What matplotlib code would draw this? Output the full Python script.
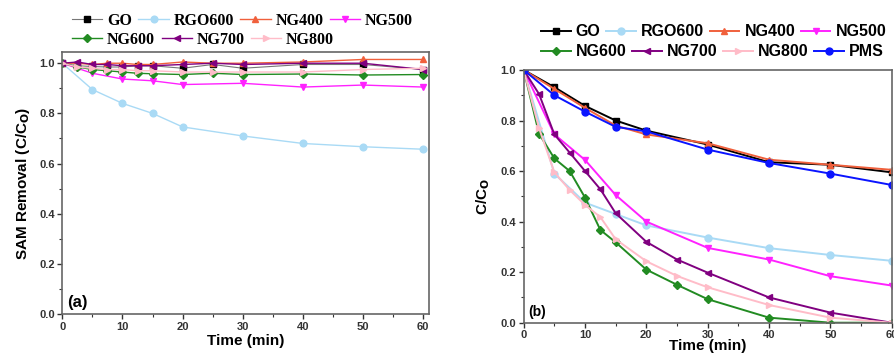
import matplotlib
matplotlib.use("Agg")
import matplotlib.pyplot as plt
from matplotlib.ticker import MultipleLocator, FormatStrFormatter

# ---- panel (a) data: SAM removal by adsorption ----
t_a = [0, 2.5, 5, 7.5, 10, 12.5, 15, 20, 25, 30, 40, 50, 60]
go_a = [1.0, 0.99, 0.987, 0.985, 0.985, 0.99, 0.99, 0.98, 0.995, 0.98, 0.995, 0.995, 0.975]
ng400_a = [1.0, 1.0, 0.995, 1.0, 1.0, 0.995, 0.995, 1.005, 1.0, 1.0, 1.005, 1.015, 1.015]
ng600_a = [1.0, 0.985, 0.975, 0.97, 0.965, 0.96, 0.958, 0.955, 0.96, 0.955, 0.957, 0.953, 0.955]
ng700_a = [1.0, 1.005, 0.995, 0.995, 0.99, 0.99, 0.99, 0.995, 1.0, 0.995, 1.0, 1.0, 0.975]
ng800_a = [1.0, 0.985, 0.98, 0.975, 0.975, 0.97, 0.97, 0.965, 0.965, 0.965, 0.965, 0.975, 0.98]
t_a_ng500 = [0, 2.5, 5, 10, 15, 20, 30, 40, 50, 60]
ng500_a = [1.0, 0.98, 0.96, 0.937, 0.93, 0.915, 0.92, 0.905, 0.913, 0.905]
t_a_rgo = [0, 5, 10, 15, 20, 30, 40, 50, 60]
rgo600_a = [1.0, 0.895, 0.84, 0.80, 0.746, 0.71, 0.68, 0.667, 0.657]

# ---- panel (b) data: SAM degradation with PMS ----
t_b = [0, 5, 10, 15, 20, 30, 40, 50, 60]
go_b = [1.0, 0.932, 0.858, 0.80, 0.76, 0.705, 0.635, 0.625, 0.595]
ng400_b = [1.0, 0.925, 0.85, 0.78, 0.745, 0.71, 0.645, 0.625, 0.605]
pms_b = [1.0, 0.90, 0.835, 0.775, 0.757, 0.685, 0.632, 0.59, 0.545]
ng500_b = [1.0, 0.745, 0.644, 0.505, 0.40, 0.296, 0.25, 0.184, 0.147]
rgo600_b = [1.0, 0.59, 0.475, 0.43, 0.385, 0.337, 0.295, 0.268, 0.245]
t_b2 = [0, 2.5, 5, 7.5, 10, 12.5, 15, 20, 25, 30, 40, 50, 60]
ng600_b = [1.0, 0.748, 0.65, 0.60, 0.495, 0.367, 0.318, 0.21, 0.15, 0.093, 0.02, 0.0, 0.0]
ng700_b = [1.0, 0.905, 0.745, 0.673, 0.60, 0.528, 0.433, 0.32, 0.25, 0.198, 0.10, 0.04, 0.0]
ng800_b = [1.0, 0.77, 0.595, 0.525, 0.466, 0.418, 0.33, 0.243, 0.185, 0.14, 0.07, 0.02, 0.0]

C_GO = "black"
C_RGO = "#a9daf5"
C_NG400 = "#f0603c"
C_NG500 = "#ff22ff"
C_NG600 = "#228b22"
C_NG700 = "#800080"
C_NG800 = "#ffbcc8"
C_PMS = "#0a14ff"

plt.rcParams["font.family"] = ["Liberation Sans", "DejaVu Sans"]
plt.rcParams["font.weight"] = "bold"

W, H = 895, 356
fig = plt.figure(figsize=(W / 100, H / 100), dpi=100)


def style_axes(ax, spine_col="#666666"):
    for s in ax.spines.values():
        s.set_color(spine_col)
        s.set_linewidth(1.2)
    ax.tick_params(which="both", direction="out", colors="#333333",
                   labelsize=8, top=False, right=False, pad=2)
    ax.tick_params(which="major", length=3.5, width=1)
    ax.tick_params(which="minor", length=2, width=0.8)
    ax.xaxis.set_major_locator(MultipleLocator(10))
    ax.xaxis.set_minor_locator(MultipleLocator(5))
    ax.yaxis.set_major_locator(MultipleLocator(0.2))
    ax.yaxis.set_minor_locator(MultipleLocator(0.1))
    ax.yaxis.set_major_formatter(FormatStrFormatter("%.1f"))


def row_legend(handles, labels, x, y, font, size, hl, tp, cs):
    leg = fig.legend(handles, labels, loc="center left",
                     bbox_to_anchor=(x / W, 1 - y / H), ncol=len(handles),
                     frameon=False, borderpad=0, borderaxespad=0,
                     handlelength=hl, handletextpad=tp, columnspacing=cs,
                     prop={"family": font, "weight": "bold", "size": size})
    return leg


# ---------------- panel (a) ----------------
ax1 = fig.add_axes([62.3 / W, 1 - 314 / H, 367 / W, (314 - 51.7) / H])
ms = 4.8
lw = 1.0
la = []
la.append(ax1.plot(t_a, go_a, color="#777777", lw=0.8, marker="s", ms=ms,
                   mfc="black", mec="black")[0])
la.append(ax1.plot(t_a_rgo, rgo600_a, color=C_RGO, lw=lw, marker="o", ms=ms)[0])
la.append(ax1.plot(t_a, ng400_a, color=C_NG400, lw=lw, marker="^", ms=ms)[0])
la.append(ax1.plot(t_a_ng500, ng500_a, color=C_NG500, lw=lw, marker="v", ms=ms)[0])
la.append(ax1.plot(t_a, ng600_a, color=C_NG600, lw=lw, marker="D", ms=ms - 0.8)[0])
la.append(ax1.plot(t_a, ng700_a, color=C_NG700, lw=lw, marker="<", ms=ms)[0])
la.append(ax1.plot(t_a, ng800_a, color=C_NG800, lw=lw, marker=">", ms=ms)[0])
ax1.set_xlim(0, 61)
ax1.set_ylim(0, 1.046)
style_axes(ax1)
ax1.set_xlabel("Time (min)", fontsize=11, fontweight="bold", labelpad=2)
ax1.set_ylabel("SAM Removal (C/C$_\\mathbf{O}$)", fontsize=11, fontweight="bold",
               labelpad=5)
ax1.text(0.012, 0.015, "(a)", transform=ax1.transAxes, fontsize=12,
         fontweight="bold", ha="left", va="bottom")

names_a = ["GO", "RGO600", "NG400", "NG500", "NG600", "NG700", "NG800"]
leg1 = row_legend(la[:4], names_a[:4], 72, 21, "Liberation Serif", 11.5, 1.9, 0.3, 0.4)
leg2 = row_legend(la[4:], names_a[4:], 72, 40, "Liberation Serif", 11.5, 1.9, 0.3, 0.4)

# ---------------- panel (b) ----------------
ax2 = fig.add_axes([523.7 / W, 1 - 322.7 / H, 368 / W, (322.7 - 70) / H])
ms2 = 5
lw2 = 1.4
lb = []
lb.append(ax2.plot(t_b, go_b, color=C_GO, lw=lw2, marker="s", ms=ms2)[0])
lb.append(ax2.plot(t_b, rgo600_b, color=C_RGO, lw=lw2, marker="o", ms=ms2)[0])
lb.append(ax2.plot(t_b, ng400_b, color=C_NG400, lw=lw2, marker="^", ms=ms2)[0])
lb.append(ax2.plot(t_b, ng500_b, color=C_NG500, lw=lw2, marker="v", ms=ms2)[0])
lb.append(ax2.plot(t_b2, ng600_b, color=C_NG600, lw=lw2, marker="D", ms=ms2 - 0.8)[0])
lb.append(ax2.plot(t_b2, ng700_b, color=C_NG700, lw=lw2, marker="<", ms=ms2)[0])
lb.append(ax2.plot(t_b2, ng800_b, color=C_NG800, lw=lw2, marker=">", ms=ms2)[0])
lb.append(ax2.plot(t_b, pms_b, color=C_PMS, lw=lw2, marker="o", ms=ms2)[0])
ax2.set_xlim(0, 60)
ax2.set_ylim(0, 1.0)
style_axes(ax2)
ax2.set_xlabel("Time (min)", fontsize=11, fontweight="bold", labelpad=-1)
ax2.set_ylabel("C/C$_\\mathbf{O}$", fontsize=11, fontweight="bold", labelpad=6)
ax2.text(0.012, 0.015, "(b)", transform=ax2.transAxes, fontsize=10,
         fontweight="bold", ha="left", va="bottom")

names_b = ["GO", "RGO600", "NG400", "NG500", "NG600", "NG700", "NG800", "PMS"]
leg3 = row_legend(lb[:4], names_b[:4], 541, 32, "Liberation Sans", 11.5, 1.85, 0.33, 0.35)
leg4 = row_legend(lb[4:], names_b[4:], 541, 52, "Liberation Sans", 11.5, 1.85, 0.33, 0.35)

fig.savefig("out.png", dpi=100)
